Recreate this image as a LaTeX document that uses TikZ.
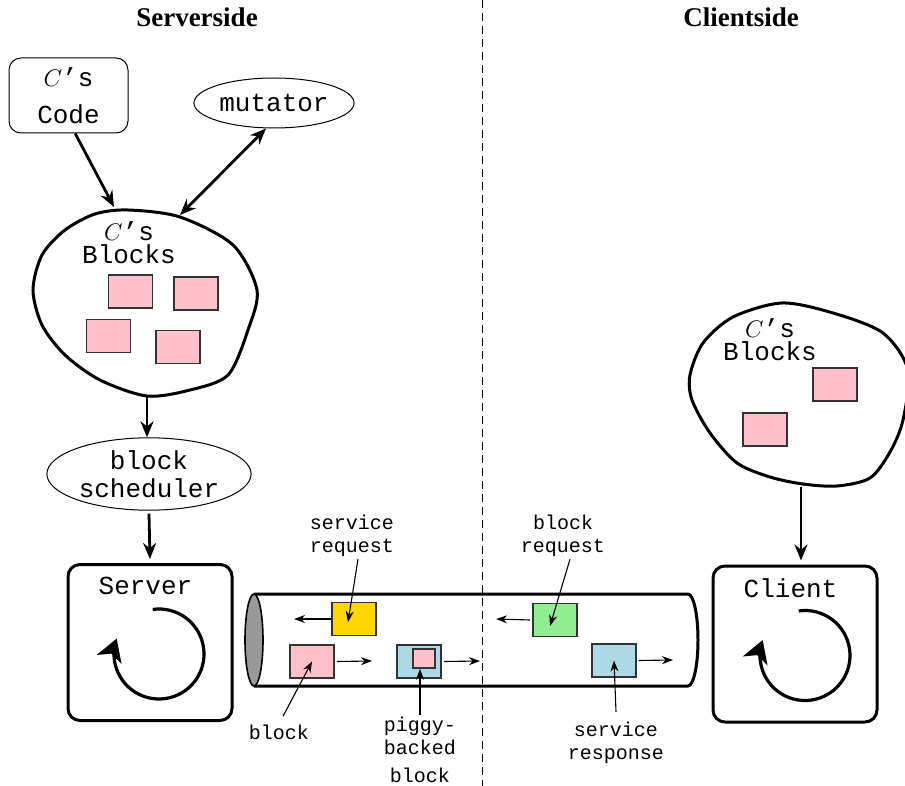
\documentclass[tikz,border=0pt]{standalone}
\usepackage{fontspec}
\setmainfont{Liberation Serif}
\setmonofont{Liberation Mono}
\definecolor{blockPink}{RGB}{255, 192, 203}
\definecolor{reqYellow}{RGB}{255, 215, 0}
\definecolor{reqGreen}{RGB}{144, 238, 144}
\definecolor{respBlue}{RGB}{173, 216, 230}
\definecolor{pipeGray}{RGB}{153, 153, 153}
\definecolor{edgeGray}{RGB}{51, 51, 51}
\usetikzlibrary{positioning, arrows.meta, shapes.geometric}

\begin{document}
\begin{tikzpicture}[
    x=0.5pt, y=-0.5pt,
    title/.style={font=\fontsize{13.5}{16}\selectfont\bfseries},
    ttbig/.style={font=\fontsize{13}{14}\selectfont\ttfamily, align=center, inner sep=1pt},
    ttsmall/.style={font=\fontsize{10}{11.5}\selectfont\ttfamily, align=center, inner sep=1pt},
    codebox/.style={rectangle, rounded corners=6pt, draw, line width=0.5pt, minimum width=59.5pt, minimum height=37.5pt},
    bubble/.style={ellipse, draw, line width=0.5pt, inner sep=0pt},
    loopbox/.style={rectangle, rounded corners=6pt, draw, line width=1.5pt, minimum width=82pt, minimum height=78pt},
    blob/.style={draw, line width=1.5pt, fill=white},
    blk/.style={rectangle, draw=edgeGray, line width=0.8pt, minimum width=22pt, minimum height=16.5pt, inner sep=0pt},
    bigarrow/.style={-{Stealth[length=8pt, width=6.5pt]}, line width=1.4pt},
    looparrow/.style={-{Stealth[length=11pt, width=13pt, inset=3pt]}, line width=1.6pt},
    thinarrow/.style={-{Stealth[length=5.5pt, width=4pt]}, line width=0.55pt}
  ]
  \useasboundingbox (0,0) rectangle (905,786);

  % divider between the two sides
  \coordinate (divtop) at (482,0);
  \coordinate (divbot) at (482,786);
  \draw[dashed, dash pattern=on 4pt off 2.5pt, line width=0.5pt] (divtop) -- (divbot);

  \node[title] (srvtitle) at (197,17) {Serverside};
  \node[title] (clttitle) at (741,17) {Clientside};

  % serverside
  \node[codebox, ttbig] (code) at (68.5,95.5) {$C$’s\\[4.5pt]Code};
  \node[bubble, ttbig, minimum width=79pt, minimum height=25pt] (mutator) at (274,103) {mutator};

  \draw[blob] plot[smooth cycle] coordinates {(128,210) (180,217) (233,245) (257,290) (248,330) (228,375)
    (190,390) (147,396) (100,380) (65,355) (42,325) (33,290) (42,255) (65,230) (95,214)};
  \node[ttbig] (sblocks) at (129,243) {$C$’s\\[-2.5pt]Blocks};
  \node[blk, fill=blockPink] (sblk1) at (130.5,291.5) {};
  \node[blk, fill=blockPink] (sblk2) at (196,293.5) {};
  \node[blk, fill=blockPink] (sblk3) at (108.5,336) {};
  \node[blk, fill=blockPink] (sblk4) at (178,347) {};
  \coordinate (sblobL) at (114,207);
  \coordinate (sblobR) at (180,215);
  \coordinate (sblobbot) at (147,396);

  \node[bubble, ttbig, minimum width=100pt, minimum height=36pt] (sched) at (149,474) {block\\scheduler};
  \node[loopbox] (server) at (150,642.5) {};
  \node[ttbig] (servertxt) at (145.5,585.5) {Server};
  \coordinate (srvloop) at (159,654);
  \draw[looparrow] ([shift={(-98:45)}]srvloop) arc[start angle=-98, end angle=200, radius=45];

  \draw[bigarrow] (code.-80) -- (sblobL);
  \draw[bigarrow, {Stealth[length=8pt, width=6.5pt]}-{Stealth[length=8pt, width=6.5pt]}] ([xshift=-4pt]mutator.south) -- (sblobR);
  \draw[bigarrow] (sblobbot) -- (sblobbot |- sched.north);
  \draw[bigarrow] ([yshift=-1.5pt]sched.south) -- ([yshift=2pt]server.north);

  % clientside
  \draw[blob] plot[smooth cycle] coordinates {(782,303) (833,313) (883,333) (908,370) (903,420) (890,452)
    (870,478) (837,486) (803,484) (770,477) (737,463) (710,433) (692,400) (690,375) (703,343) (733,317)};
  \node[ttbig] (cblocks) at (770,340) {$C$’s\\[-2.5pt]Blocks};
  \node[blk, fill=blockPink] (cblk1) at (835,384.5) {};
  \node[blk, fill=blockPink] (cblk2) at (765,429.5) {};
  \coordinate (cblobbot) at (801,487);

  \node[loopbox] (client) at (795,644) {};
  \node[ttbig] (clienttxt) at (790.5,588) {Client};
  \coordinate (cltloop) at (805,655.5);
  \draw[looparrow] ([shift={(-98:45)}]cltloop) arc[start angle=-98, end angle=200, radius=45];

  \draw[bigarrow] (cblobbot) -- ([yshift=2pt]cblobbot |- client.north);

  % the connection
  \draw[line width=1.5pt] (254,594) -- (688,594) arc[start angle=-90, end angle=90, x radius=10, y radius=46] -- (254,686);
  \draw[line width=0.8pt, fill=pipeGray] (254,640) ellipse[x radius=9, y radius=46];

  \node[blk, fill=reqYellow] (sreq) at (354,619) {};
  \node[blk, fill=blockPink] (pblk) at (312,661.5) {};
  \node[blk, fill=respBlue] (pig) at (419,661.5) {};
  \node[blk, fill=blockPink, minimum width=11pt, minimum height=9.5pt] (pigin) at (424,658.5) {};
  \node[blk, fill=reqGreen] (breq) at (555,620) {};
  \node[blk, fill=respBlue] (sresp) at (614,660.5) {};

  \coordinate (sreqto) at (294,619);
  \coordinate (pblkto) at (372,661);
  \coordinate (pigto) at (480,661);
  \coordinate (breqto) at (496,619);
  \coordinate (srespto) at (673,660);
  \draw[thinarrow] (sreq) -- (sreqto);
  \draw[thinarrow] ([xshift=1pt]pblk.east) -- (pblkto);
  \draw[thinarrow] ([xshift=1pt]pig.east) -- (pigto);
  \draw[thinarrow] ([xshift=-1pt]breq.west) -- (breqto);
  \draw[thinarrow] ([xshift=1pt]sresp.east) -- (srespto);

  % labels
  \node[ttsmall] (sreqlbl) at (352,536) {service\\request};
  \node[ttsmall] (breqlbl) at (563,536) {block\\request};
  \node[ttsmall] (pblklbl) at (279,732) {block};
  \node[ttsmall] (piglbl) at (420,750) {piggy-\\backed\\[2.5pt]block};
  \node[ttsmall] (sresplbl) at (616,743) {service\\response};

  \draw[thinarrow] ([xshift=3pt]sreqlbl.south) -- ([xshift=-3pt, yshift=-1.5pt]sreq.center);
  \draw[thinarrow] ([xshift=3.5pt]breqlbl.south) -- ([xshift=-2.5pt, yshift=-3pt]breq.center);
  \draw[thinarrow] ([xshift=2pt, yshift=3pt]pblklbl.north) -- (pblk.center);
  \draw[thinarrow] (piglbl.north) -- (piglbl.north |- pigin.south);
  \draw[thinarrow] ([yshift=4pt]sresplbl.north) -- (sresp.center);
\end{tikzpicture}
\end{document}
